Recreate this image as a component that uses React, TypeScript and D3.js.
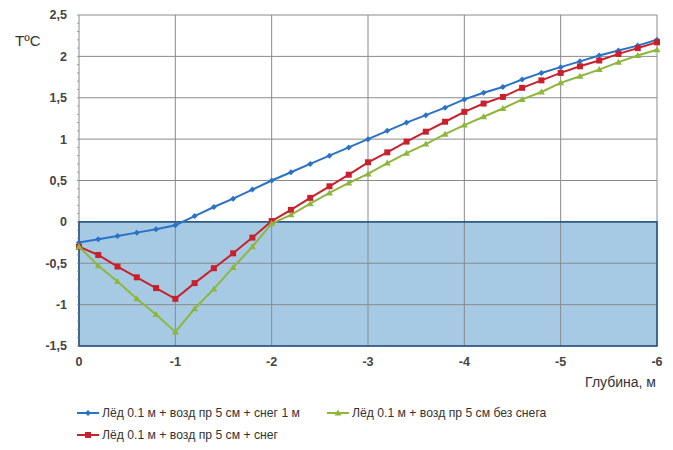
import React from "react";
import * as d3 from "d3";

const depths: number[] = d3.range(31).map((i) => -i * 0.2);

const blueValues = [
  -0.25, -0.21, -0.17, -0.13, -0.09, -0.04, 0.07, 0.18, 0.28, 0.39, 0.5, 0.6, 0.7, 0.8, 0.9, 1.0,
  1.1, 1.2, 1.29, 1.38, 1.48, 1.56, 1.63, 1.72, 1.8, 1.87, 1.94, 2.01, 2.07, 2.13, 2.2,
];
const redValues = [
  -0.3, -0.4, -0.54, -0.67, -0.8, -0.93, -0.74, -0.56, -0.38, -0.19, 0.01, 0.145, 0.29, 0.43, 0.57,
  0.72, 0.84, 0.97, 1.09, 1.21, 1.33, 1.43, 1.51, 1.62, 1.71, 1.8, 1.88, 1.95, 2.03, 2.1, 2.17,
];
const greenValues = [
  -0.3, -0.53, -0.72, -0.93, -1.12, -1.33, -1.05, -0.81, -0.55, -0.3, -0.02, 0.085, 0.22, 0.35,
  0.47, 0.58, 0.71, 0.83, 0.94, 1.06, 1.17, 1.27, 1.37, 1.48, 1.57, 1.68, 1.76, 1.84, 1.93, 2.01,
  2.08,
];

const yTicks = [2.5, 2, 1.5, 1, 0.5, 0, -0.5, -1, -1.5];
const xTicks = [0, -1, -2, -3, -4, -5, -6];

const seriesNames = [
  "Лёд 0.1 м + возд пр 5 см + снег 1 м",
  "Лёд 0.1 м + возд пр 5 см без снега",
  "Лёд 0.1 м + возд пр 5 см + снег",
];
const yTitle = "TºC";
const xTitle = "Глубина, м";

const W = 673;
const H = 450;
const left = 79;
const right = 657;
const top = 15;
const bottom = 346;

const BLUE = "#2a72c6";
const RED = "#c8202c";
const GREEN = "#8fb63c";
const GRID = "#8a8a8a";
const FONT = "'Liberation Sans', Arial, sans-serif";

export default function App() {
  const x = d3.scaleLinear().domain([0, -6]).range([left, right]);
  const y = d3.scaleLinear().domain([-1.5, 2.5]).range([bottom, top]);
  const line = d3
    .line<[number, number]>()
    .x((d) => x(d[0]))
    .y((d) => y(d[1]));

  const fmt = (v: number) => String(v).replace(".", ",");

  const series = [
    { vals: blueValues, color: BLUE, shape: "diamond" },
    { vals: redValues, color: RED, shape: "square" },
    { vals: greenValues, color: GREEN, shape: "triangle" },
  ];

  const marker = (shape: string, cx: number, cy: number, color: string, key: string | number) => {
    if (shape === "diamond") {
      return (
        <path key={key} d={`M${cx},${cy - 3}L${cx + 3},${cy}L${cx},${cy + 3}L${cx - 3},${cy}Z`} fill={color} />
      );
    }
    if (shape === "square") {
      return <rect key={key} x={cx - 3} y={cy - 3} width={6} height={6} fill={color} />;
    }
    return (
      <path key={key} d={`M${cx},${cy - 3.5}L${cx + 3.5},${cy + 2.5}L${cx - 3.5},${cy + 2.5}Z`} fill={color} />
    );
  };

  const minorTicks = d3.range(-1.5, 2.5001, 0.1);

  const legendItems = [
    { name: seriesNames[0], color: BLUE, shape: "diamond", lx: 77, ly: 413 },
    { name: seriesNames[1], color: GREEN, shape: "triangle", lx: 327, ly: 413 },
    { name: seriesNames[2], color: RED, shape: "square", lx: 77, ly: 435 },
  ];

  return (
    <svg
      width={W}
      height={H}
      style={{ position: "absolute", left: 0, top: 0, background: "#fff" }}
      fontFamily={FONT}
    >
      <rect x={0} y={0} width={W} height={H} fill="#fff" />
      <rect x={x(0)} y={y(0)} width={x(-6) - x(0)} height={y(-1.5) - y(0)} fill="#a6cae4" />
      {yTicks.map((t) => (
        <line key={"gy" + t} x1={left} x2={right} y1={y(t)} y2={y(t)} stroke={GRID} strokeWidth={1} />
      ))}
      {xTicks.map((t) => (
        <line key={"gx" + t} x1={x(t)} x2={x(t)} y1={top} y2={bottom} stroke={GRID} strokeWidth={1} />
      ))}
      <rect
        x={x(0)}
        y={y(0)}
        width={x(-6) - x(0)}
        height={y(-1.5) - y(0)}
        fill="none"
        stroke="#1d4f82"
        strokeWidth={1.5}
      />
      {minorTicks.map((t, i) => (
        <line key={"mt" + i} x1={left - 2} x2={left} y1={y(t)} y2={y(t)} stroke={GRID} strokeWidth={0.8} />
      ))}
      {yTicks.map((t) => (
        <text
          key={"yl" + t}
          x={67}
          y={y(t)}
          dy="0.35em"
          textAnchor="end"
          fontSize={12.5}
          fontWeight="bold"
          fill="#444"
        >
          {fmt(t)}
        </text>
      ))}
      {xTicks.map((t) => (
        <text
          key={"xl" + t}
          x={x(t)}
          y={362}
          dy="0.35em"
          textAnchor="middle"
          fontSize={12.5}
          fontWeight="bold"
          fill="#444"
        >
          {fmt(t)}
        </text>
      ))}
      <text x={15} y={46} fontSize={15} fill="#333">
        {yTitle}
      </text>
      <text x={656} y={387} textAnchor="end" fontSize={14} fill="#333">
        {xTitle}
      </text>
      {series.map((s, si) => {
        const pts: [number, number][] = depths.map((d, i) => [d, s.vals[i]]);
        return (
          <g key={"s" + si}>
            <path d={line(pts) || ""} fill="none" stroke={s.color} strokeWidth={2} />
            {pts.map((p, i) => marker(s.shape, x(p[0]), y(p[1]), s.color, i))}
          </g>
        );
      })}
      {legendItems.map((l, i) => (
        <g key={"lg" + i}>
          <line x1={l.lx} x2={l.lx + 22} y1={l.ly} y2={l.ly} stroke={l.color} strokeWidth={2} />
          {marker(l.shape, l.lx + 11, l.ly, l.color, "m")}
          <text x={l.lx + 25} y={l.ly} dy="0.35em" fontSize={12.2} fill="#333">
            {l.name}
          </text>
        </g>
      ))}
    </svg>
  );
}
